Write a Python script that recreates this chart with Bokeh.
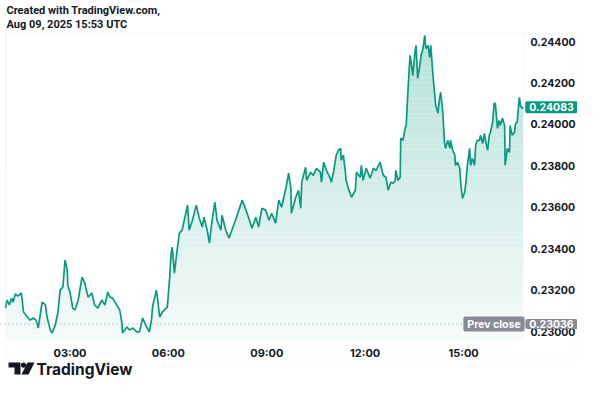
import numpy as np
import pandas as pd
from bokeh.plotting import figure
from bokeh.models import (Range1d, FixedTicker, DatetimeTickFormatter, PrintfTickFormatter,
                          Span, Label, PolyAnnotation)
from bokeh.embed import file_html
from bokeh.resources import INLINE

# ---------------- data ----------------
DATE = "2025-08-09"
times = ["01:02","01:05","01:09","01:13","01:16","01:20","01:25","01:31","01:35","01:42","01:47","01:53","01:58","02:02","02:09","02:15","02:18","02:24","02:27","02:33","02:38","02:42","02:47","02:51","02:55","02:56","03:00","03:05","03:09","03:15","03:22","03:27","03:33","03:40","03:45","03:51","03:58","04:04","04:09","04:13","04:18","04:31","04:35","04:36","04:44","04:49","04:55","05:02","05:07","05:13","05:20","05:25","05:29","05:31","05:38","05:40","05:44","05:49","05:56","05:58","06:02","06:05","06:07","06:11","06:16","06:20","06:25","06:29","06:35","06:38","06:44","06:51","06:56","07:02","07:05","07:11","07:15","07:20","07:25","07:29","07:36","07:38","07:45","07:51","07:56","08:04","08:09","08:15","08:22","08:27","08:33","08:40","08:45","08:51","08:58","09:04","09:09","09:16","09:22","09:27","09:35","09:40","09:44","09:45","09:53","09:58","10:02","10:04","10:11","10:13","10:20","10:25","10:31","10:38","10:40","10:44","10:49","10:56","10:58","11:02","11:07","11:11","11:15","11:16","11:20","11:24","11:25","11:29","11:35","11:42","11:44","11:51","11:53","11:56","12:02","12:09","12:15","12:20","12:27","12:33","12:38","12:42","12:47","12:51","12:55","12:56","13:00","13:04","13:05","13:09","13:13","13:15","13:18","13:22","13:24","13:27","13:31","13:33","13:36","13:40","13:42","13:45","13:49","13:51","13:55","13:58","14:00","14:04","14:07","14:09","14:13","14:16","14:18","14:22","14:25","14:27","14:31","14:35","14:36","14:40","14:44","14:45","14:49","14:53","14:55","14:58","15:02","15:04","15:07","15:11","15:13","15:16","15:20","15:22","15:25","15:29","15:31","15:35","15:38","15:40","15:44","15:47","15:49","15:53","15:56","15:58","16:02","16:05","16:07","16:11","16:15","16:16","16:20","16:24","16:25","16:29","16:33","16:35","16:38","16:42","16:44","16:47","16:49"]

prices = [0.23113,0.23152,0.23128,0.23161,0.23142,0.23181,0.23171,0.23186,0.23094,0.23070,
          0.23055,0.23065,0.23055,0.23017,0.23142,0.23128,0.23070,0.23007,0.22993,0.23031,
          0.23094,0.23200,0.23215,0.23345,0.23296,0.23224,0.23190,0.23113,0.23104,0.23152,
          0.23263,0.23234,0.23166,0.23186,0.23128,0.23113,0.23152,0.23128,0.23190,0.23166,
          0.23161,0.23104,0.23041,0.22993,0.23022,0.23007,0.23017,0.22998,0.22998,0.23065,
          0.23022,0.22998,0.23055,0.23118,0.23200,0.23161,0.23070,0.23094,0.23113,0.23118,
          0.23248,0.23378,0.23407,0.23282,0.23393,0.23475,0.23489,0.23537,0.23610,0.23489,
          0.23537,0.23610,0.23552,0.23504,0.23552,0.23489,0.23427,0.23537,0.23624,0.23537,
          0.23489,0.23561,0.23489,0.23451,0.23489,0.23547,0.23586,0.23634,0.23586,0.23547,
          0.23499,0.23552,0.23504,0.23595,0.23586,0.23537,0.23571,0.23523,0.23634,0.23600,
          0.23692,0.23764,0.23692,0.23571,0.23648,0.23682,0.23595,0.23721,0.23793,0.23730,
          0.23769,0.23754,0.23788,0.23769,0.23721,0.23817,0.23778,0.23740,0.23721,0.23769,
          0.23851,0.23875,0.23884,0.23827,0.23851,0.23764,0.23730,0.23692,0.23648,0.23682,
          0.23769,0.23745,0.23802,0.23730,0.23788,0.23740,0.23788,0.23778,0.23817,0.23754,
          0.23745,0.23682,0.23721,0.23716,0.23730,0.23778,0.23730,0.23745,0.23933,0.23923,
          0.23981,0.23995,0.24154,0.24333,0.24299,0.24236,0.24347,0.24381,0.24222,0.24284,
          0.24333,0.24357,0.24429,0.24366,0.24381,0.24323,0.24381,0.24236,0.24149,0.24092,
          0.24053,0.24125,0.24154,0.24058,0.23913,0.23884,0.23923,0.23884,0.23923,0.23875,
          0.23851,0.23802,0.23817,0.23788,0.23706,0.23643,0.23672,0.23716,0.23802,0.23884,
          0.23802,0.23836,0.23802,0.23899,0.23923,0.23923,0.23947,0.23908,0.23957,0.23923,
          0.23875,0.23947,0.23961,0.24010,0.24101,0.24101,0.23981,0.24019,0.23995,0.24029,
          0.23995,0.23802,0.23884,0.23865,0.23995,0.23947,0.23961,0.24005,0.24010,0.24130,
          0.24092,0.24077,0.24083]

prev_close = 0.23036
price_ticks = [0.230, 0.232, 0.234, 0.236, 0.238, 0.240, 0.242, 0.244]
time_ticks = ["03:00", "06:00", "09:00", "12:00", "15:00"]
title_lines = ["Created with TradingView.com,", "Aug 09, 2025 15:53 UTC"]
brand = "TradingView"

# ---------------- styling / layout ----------------
TEAL = "#089981"
DARK = "#131722"
GREY = "#878B94"
FONT = "Inter"
W, H = 577, 382
PX_PER_UNIT = 290 / 0.014          # vertical pixels per price unit (0.244 at row 41)


def y_at(py):
    """price value that sits at a given pixel row of the canvas"""
    return 0.244 - (py - 41) / PX_PER_UNIT


def ts(t):
    return pd.Timestamp(f"{DATE} {t}")


x = pd.to_datetime([f"{DATE} {t}" for t in times])
y = np.array(prices)

p = figure(width=W, height=H, x_axis_type="datetime",
           x_range=Range1d(ts("00:52:52"), ts("18:28:21")),
           y_range=Range1d(y_at(H), y_at(0)),
           y_axis_location="right", output_backend="svg", toolbar_location=None,
           min_border=0)
p.background_fill_color = "white"
p.border_fill_color = "white"
p.outline_line_color = None
p.grid.visible = False

# gradient area: horizontal stripes, masked above the line with white
plot_bottom = y_at(340)
n_stripes = 60
levels = np.linspace(plot_bottom, 0.2445, n_stripes + 1)
teal_rgb = np.array([8, 153, 129])
cols = []
for i in range(n_stripes):
    t = (0.5 * (levels[i] + levels[i + 1]) - plot_bottom) / (0.2445 - plot_bottom)
    a = 0.04 + 0.26 * t
    c = (255 * (1 - a) + teal_rgb * a).round().astype(int)
    cols.append("#%02x%02x%02x" % tuple(c))
p.quad(left=[x[0]] * n_stripes, right=[x[-1]] * n_stripes,
       bottom=levels[:-1], top=levels[1:], fill_color=cols, line_color=None)
p.varea(x=x, y1=y, y2=np.full(len(y), 0.2447), fill_color="white")
p.line(x, y, line_color=TEAL, line_width=1.7)

# previous close line
p.add_layout(Span(location=prev_close, dimension="width", line_color="#9598A1",
                  line_dash="1 3", line_width=1))

# axes (drawn at fixed positions inside the canvas)
p.xaxis.ticker = FixedTicker(ticks=[ts(t).value / 1e6 for t in time_ticks])
fmt = "%H:%M"
p.xaxis.formatter = DatetimeTickFormatter(hours=fmt, hourmin=fmt, minutes=fmt, minsec=fmt,
                                          days=fmt, months=fmt, years=fmt)
p.xaxis.fixed_location = plot_bottom
p.yaxis.ticker = FixedTicker(ticks=price_ticks)
p.yaxis.formatter = PrintfTickFormatter(format="%.5f")
p.yaxis.fixed_location = ts("16:58:45").value / 1e6
for ax in (p.xaxis, p.yaxis):
    ax.axis_line_color = None
    ax.major_tick_line_color = None
    ax.minor_tick_line_color = None
    ax.major_tick_out = 0
    ax.major_tick_in = 0
    ax.minor_tick_out = 0
    ax.major_label_text_font = FONT
    ax.major_label_text_font_style = "bold"
    ax.major_label_text_color = DARK
p.xaxis.major_label_text_font_size = "11px"
p.yaxis.major_label_text_font_size = "10.5px"
p.xaxis.major_label_standoff = 5
p.yaxis.major_label_standoff = 2

# outer frame
p.add_layout(PolyAnnotation(xs=[5.5, 575.5, 575.5, 5.5],
                            ys=[y_at(32.5), y_at(32.5), y_at(359.5), y_at(359.5)],
                            xs_units="screen", ys_units="data",
                            fill_color=None, line_color="#E0E3EB", line_width=1))

# price labels on the right
lab = dict(x_units="screen", text_align="center", text_baseline="middle",
           text_color="white", text_font=FONT, text_font_size="10.5px",
           text_font_style="bold", border_radius=2)
p.add_layout(Label(x=493.5, y=prev_close, text="Prev close",
                   background_fill_color=GREY, padding=(4, 1), **lab))
p.add_layout(Label(x=551, y=prev_close, text=f"{prev_close:.5f}",
                   background_fill_color=GREY, padding=(4, 1), **lab))
p.add_layout(Label(x=551, y=prices[-1], text=f"{prices[-1]:.5f}",
                   background_fill_color=TEAL, padding=(4, 2), **lab))

# header
for txt, py in zip(title_lines, [9.5, 24]):
    p.add_layout(Label(x=6, y=y_at(py), x_units="screen", text=txt,
                       text_align="left", text_baseline="middle", text_color=DARK,
                       text_font="Roboto", text_font_size="11px", text_font_style="bold"))

# footer logo + brand
logo_polys = [
    ([8, 20, 20, 14, 14, 8], [362, 362, 374, 374, 367, 367]),
    ([27, 34, 28, 21], [362, 362, 374, 374]),
]
for xs, ys in logo_polys:
    p.add_layout(PolyAnnotation(xs=xs, ys=[y_at(v) for v in ys], xs_units="screen",
                                ys_units="data", fill_color=DARK, fill_alpha=1,
                                line_color=None))
ang = np.linspace(0, 2 * np.pi, 24)
p.add_layout(PolyAnnotation(xs=list(23 + 2.6 * np.cos(ang)),
                            ys=[y_at(v) for v in (364.6 + 2.6 * np.sin(ang))],
                            xs_units="screen", ys_units="data", fill_color=DARK,
                            fill_alpha=1, line_color=None))
p.add_layout(Label(x=36, y=y_at(369), x_units="screen", text=brand,
                   text_align="left", text_baseline="middle", text_color=DARK,
                   text_font=FONT, text_font_size="15.5px", text_font_style="bold"))

open("out.html", "w").write(file_html(p, INLINE))
